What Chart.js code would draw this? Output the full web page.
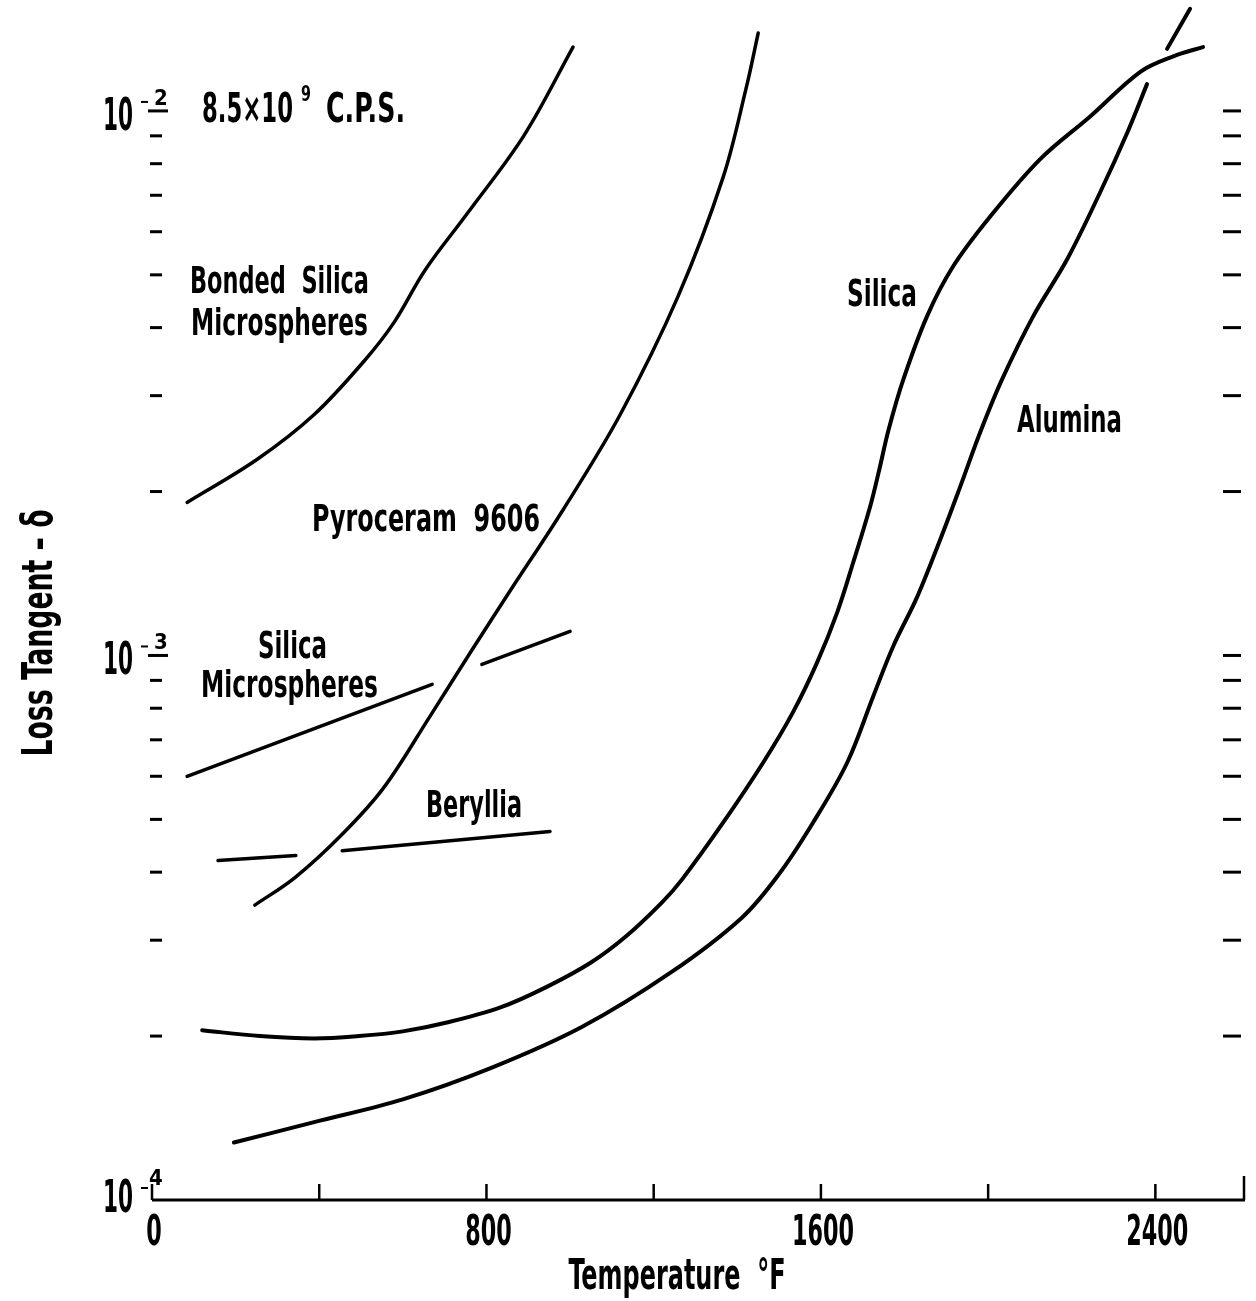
<!DOCTYPE html>
<html>
<head>
<meta charset="utf-8">
<script src="https://cdn.jsdelivr.net/npm/chart.js@4.4.1/dist/chart.umd.min.js"></script>
<style>
  html, body { margin: 0; padding: 0; background: #fff; }
  #wrap { width: 1256px; height: 1301px; }
</style>
</head>
<body>
<div id="wrap"><canvas id="chart" width="1256" height="1301"></canvas></div>
<script>
// Loss tangent vs temperature, 8.5x10^9 c.p.s.
// temperatures in deg F, loss tangent as plain numbers
const silicaT = [120, 258, 388, 495, 600, 708, 835, 943, 1050, 1134, 1220, 1268, 1366, 1462, 1533, 1591, 1639, 1677, 1718, 1740, 1762, 1797, 1854, 1916, 2005, 2124, 2244, 2364, 2443, 2514];
const silicaV = [2.05e-4, 2.0e-4, 1.98e-4, 2.0e-4, 2.04e-4, 2.12e-4, 2.26e-4, 2.46e-4, 2.73e-4, 3.05e-4, 3.52e-4, 3.88e-4, 4.93e-4, 6.36e-4, 7.86e-4, 9.71e-4, 1.2e-3, 1.48e-3, 1.88e-3, 2.2e-3, 2.6e-3, 3.21e-3, 4.2e-3, 5.18e-3, 6.4e-3, 8.15e-3, 9.77e-3, 1.18e-2, 1.26e-2, 1.31e-2];

const aluminaT = [196, 388, 600, 813, 1029, 1242, 1411, 1498, 1581, 1663, 1725, 1773, 1830, 1885, 1933, 1981, 2033, 2108, 2189, 2268, 2333, 2380];
const aluminaV = [1.275e-4, 1.39e-4, 1.53e-4, 1.75e-4, 2.08e-4, 2.62e-4, 3.3e-4, 3.95e-4, 4.93e-4, 6.36e-4, 8.41e-4, 1.04e-3, 1.28e-3, 1.63e-3, 2.04e-3, 2.57e-3, 3.21e-3, 4.2e-3, 5.34e-3, 7.09e-3, 9.13e-3, 1.12e-2];
// short piece of the alumina curve above the crossing
const aluminaTailT = [2428, 2483];
const aluminaTailV = [1.3e-2, 1.54e-2];

const pyroT = [246, 342, 452, 553, 663, 763, 854, 983, 1120, 1258, 1366, 1421, 1450];
const pyroV = [3.48e-4, 3.91e-4, 4.67e-4, 5.7e-4, 7.69e-4, 1.017e-3, 1.305e-3, 1.85e-3, 2.77e-3, 4.56e-3, 7.55e-3, 1.1e-2, 1.39e-2];

const bondedT = [84, 251, 388, 507, 579, 653, 754, 890, 1007];
const bondedV = [1.91e-3, 2.29e-3, 2.77e-3, 3.47e-3, 4.09e-3, 5.1e-3, 6.48e-3, 9.02e-3, 1.31e-2];

// straight lines, broken where the pyroceram curve crosses
const microAT = [84, 670];
const microAV = [6.0e-4, 8.85e-4];
const microBT = [789, 1000];
const microBV = [9.63e-4, 1.107e-3];

const berylAT = [158, 344];
const berylAV = [4.2e-4, 4.29e-4];
const berylBT = [455, 952];
const berylBV = [4.38e-4, 4.75e-4];

const xMin = 0, xMax = 2612;
const yMin = 1e-4, yMax = 0.01585;
const xTickValues = [0, 400, 800, 1200, 1600, 2000, 2400];
const xTickLabels = ['0', '', '800', '', '1600', '', '2400'];
const yTickValues = [2e-4, 3e-4, 4e-4, 5e-4, 6e-4, 7e-4, 8e-4, 9e-4, 1e-3,
  2e-3, 3e-3, 4e-3, 5e-3, 6e-3, 7e-3, 8e-3, 9e-3, 1e-2];
const yDecades = [-4, -3, -2];

const FONT = '"Liberation Sans Narrow", "DejaVu Sans Condensed", "Roboto Condensed", sans-serif';

function pts(T, V) {
  return T.map((t, i) => ({ x: t, y: V[i] }));
}

function curve(label, T, V, width, smooth) {
  return {
    label: label,
    data: pts(T, V),
    borderColor: '#000',
    borderWidth: width,
    borderCapStyle: 'round',
    borderJoinStyle: 'round',
    pointRadius: 0,
    fill: false,
    tension: smooth ? 0.35 : 0
  };
}

function txt(ctx, s, x, y, size, w, align) {
  ctx.font = 'bold ' + size + 'px ' + FONT;
  ctx.textAlign = align || 'left';
  ctx.textBaseline = 'alphabetic';
  ctx.fillText(s, x, y, w);
}

function seg(ctx, x1, y1, x2, y2) {
  ctx.beginPath();
  ctx.moveTo(x1, y1);
  ctx.lineTo(x2, y2);
  ctx.stroke();
}

const paperAxes = {
  id: 'paperAxes',
  afterDraw(chart) {
    const ctx = chart.ctx;
    const xs = chart.scales.x, ys = chart.scales.y;
    const x0 = xs.getPixelForValue(xMin);
    const xEnd = xs.getPixelForValue(xMax);
    const yBase = ys.getPixelForValue(yMin);
    ctx.save();
    ctx.strokeStyle = '#000';
    ctx.fillStyle = '#000';
    ctx.lineCap = 'butt';

    // bottom axis with upward ticks
    ctx.lineWidth = 3;
    seg(ctx, x0, yBase, xEnd + 1, yBase);
    ctx.lineWidth = 2.5;
    xTickValues.forEach(t => {
      const px = xs.getPixelForValue(t);
      seg(ctx, px, yBase, px, yBase - 16);
    });
    seg(ctx, xEnd, yBase, xEnd, yBase - 24);

    // loose tick dashes on both sides (no vertical axis lines)
    ctx.lineWidth = 3;
    yTickValues.forEach(v => {
      const py = ys.getPixelForValue(v);
      const major = Math.abs(Math.log10(v) - Math.round(Math.log10(v))) < 1e-9;
      if (major) seg(ctx, x0 - 4, py, x0 + 16, py);
      else seg(ctx, x0 - 2, py, x0 + 10, py);
      seg(ctx, xEnd - 21, py, xEnd - 3, py);
    });

    // x tick labels
    xTickValues.forEach((t, i) => {
      if (!xTickLabels[i]) return;
      const px = xs.getPixelForValue(t);
      txt(ctx, xTickLabels[i], px + 2, yBase + 45, 42, xTickLabels[i].length * 15.5, 'center');
    });

    // y decade labels, 10 with a small superscript
    yDecades.forEach(e => {
      const py = ys.getPixelForValue(Math.pow(10, e));
      const low = e === -4;
      const base = low ? py + 12 : py + 19;
      txt(ctx, '10', x0 - 19, base, 44, 30, 'right');
      const sb = low ? py - 15 : py - 6;
      ctx.lineWidth = 2;
      seg(ctx, x0 - 11, sb + (low ? 3 : -3), x0 - 4, sb + (low ? 3 : -3));
      txt(ctx, String(-e), low ? x0 - 3 : x0 + 2, low ? py - 15 : py - 6, 22, 14, 'left');
    });

    // axis titles
    txt(ctx, 'Temperature  °F', 677, 1289, 42, 217, 'center');
    ctx.save();
    ctx.translate(52, 633);
    ctx.rotate(-Math.PI / 2);
    txt(ctx, 'Loss Tangent – δ', 0, 0, 42, 247, 'center');
    ctx.restore();

    // curve labels and frequency note
    txt(ctx, '8.5×10', 202, 122, 40, 91);
    txt(ctx, '9', 301, 101, 22, 10);
    txt(ctx, 'C.P.S.', 326, 122, 40, 79);
    txt(ctx, 'Bonded  Silica', 190, 293, 38, 179);
    txt(ctx, 'Microspheres', 191, 335, 38, 177);
    txt(ctx, 'Pyroceram  9606', 312, 531, 38, 228);
    txt(ctx, 'Silica', 258, 658, 38, 69);
    txt(ctx, 'Microspheres', 201, 697, 38, 177);
    txt(ctx, 'Beryllia', 426, 817, 38, 96);
    txt(ctx, 'Silica', 847, 306, 38, 70);
    txt(ctx, 'Alumina', 1017, 432, 38, 105);
    ctx.restore();
  }
};

const chart = new Chart(document.getElementById('chart'), {
  type: 'line',
  data: {
    datasets: [
      curve('Silica', silicaT, silicaV, 4, true),
      curve('Alumina', aluminaT, aluminaV, 4, true),
      curve('Alumina (cont.)', aluminaTailT, aluminaTailV, 4, false),
      curve('Pyroceram 9606', pyroT, pyroV, 3.5, true),
      curve('Bonded Silica Microspheres', bondedT, bondedV, 3.5, true),
      curve('Silica Microspheres', microAT, microAV, 3.5, false),
      curve('Silica Microspheres (cont.)', microBT, microBV, 3.5, false),
      curve('Beryllia', berylAT, berylAV, 3.5, false),
      curve('Beryllia (cont.)', berylBT, berylBV, 3.5, false)
    ]
  },
  options: {
    responsive: false,
    animation: false,
    devicePixelRatio: 1,
    layout: { padding: { left: 152, right: 12, top: 2, bottom: 101 } },
    plugins: {
      legend: { display: false },
      tooltip: { enabled: false }
    },
    scales: {
      x: { type: 'linear', min: xMin, max: xMax, display: false },
      y: { type: 'logarithmic', min: yMin, max: yMax, display: false }
    }
  },
  plugins: [paperAxes]
});
</script>
</body>
</html>
